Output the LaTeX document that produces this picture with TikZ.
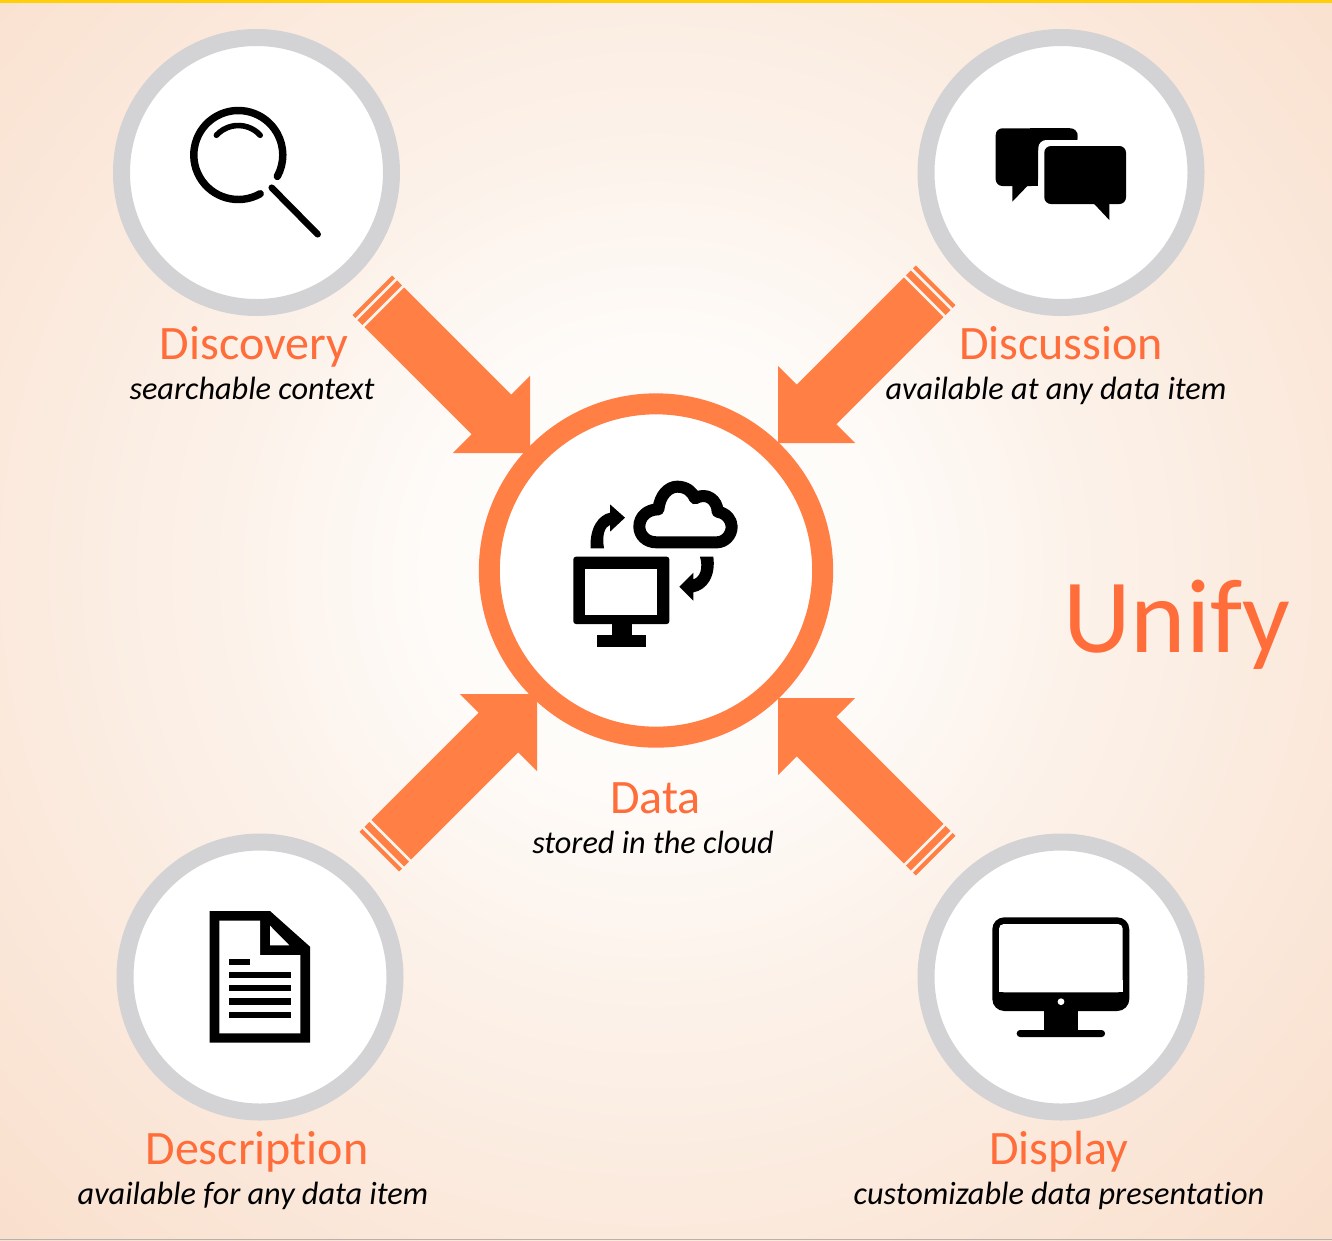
\documentclass[tikz,border=0pt]{standalone}
\usepackage{fontspec}
\setmainfont{Carlito}[Ligatures=NoCommon]
\definecolor{hot}{HTML}{FF7F45}
\definecolor{txt}{HTML}{FF6D3A}
\definecolor{ringgray}{HTML}{D3D3D5}
\definecolor{topbar}{HTML}{FFCF0A}
\definecolor{bg0}{HTML}{FEFBF8}
\definecolor{bgA}{HTML}{FCF2EA}
\definecolor{bgB}{HTML}{FAE4D4}
\definecolor{bgC}{HTML}{F8D6BD}
\pgfdeclareradialshading{bgglow}{\pgfpointorigin}{
  color(0bp)=(white);
  color(6bp)=(bg0);
  color(11bp)=(bgA);
  color(21bp)=(bgB);
  color(32bp)=(bgC);
  color(50bp)=(bgC)}
\tikzset{
  ringnode/.style={circle,draw=ringgray,fill=white,line width=12.75pt,minimum size=202.5pt,inner sep=0pt},
  hubnode/.style={circle,draw=hot,fill=white,line width=15.75pt,minimum size=250pt,inner sep=0pt},
  heading/.style={anchor=base,text=txt,font=\fontsize{36}{39}\selectfont,inner sep=0pt},
  sublabel/.style={anchor=base,text=black,font=\fontsize{24.2}{27}\selectfont\itshape,inner sep=0pt},
  icon/.style={fill=black,draw=none},
  hole/.style={fill=white,draw=none},
  lens/.style={draw=black,line cap=round}
}
\newcommand{\blockarrow}[2]{%
  \begin{scope}[shift={(#1)},rotate=#2]
    \fill[hot] (0,0) -- (-54.5,54.5) -- (-54.5,28) -- (-206,28) -- (-206,-28) -- (-54.5,-28) -- (-54.5,-54.5) -- cycle;
    \fill[hot] (-209,28) rectangle (-216,-28);
    \fill[hot] (-219,28) rectangle (-223,-28);
  \end{scope}}
\begin{document}
\begin{tikzpicture}[x=.75pt,y=-.75pt]
\useasboundingbox (0,0) rectangle (1332,1240);
\begin{scope}
  \clip (0,0) rectangle (1332,1240);
  \shade[shading=bgglow] (655,570) circle (960);
  \fill[topbar] (0,0) rectangle (1332,3);
  \fill[gray!60] (0,1238.5) rectangle (1332,1240);
\end{scope}

\coordinate (tipTL) at (530,453);
\coordinate (tipTR) at (778,443);
\coordinate (tipBL) at (537,694);
\coordinate (tipBR) at (778,698);

\node[hubnode] (data) at (656,570.5) {};
\node[ringnode] (discovery) at (256.5,172.5) {};
\node[ringnode] (discussion) at (1061,172.5) {};
\node[ringnode] (description) at (260,977) {};
\node[ringnode] (display) at (1061,977) {};

\blockarrow{tipTL}{-45}
\blockarrow{tipTR}{-135}
\blockarrow{tipBL}{45}
\blockarrow{tipBR}{135}

% texts
\node[heading] (t1) at (254,359) {Discovery};
\node[sublabel] (s1) at (252,399) {searchable context};
\node[heading] (t2) at (1061,359) {Discussion};
\node[sublabel] (s2) at (1056,399) {available at any data item};
\node[heading] (t3) at (655.5,813) {Data};
\node[sublabel] (s3) at (653,853) {stored in the cloud};
\node[heading] (t4) at (257,1164) {Description};
\node[sublabel] (s4) at (253,1204) {available for any data item};
\node[heading] (t5) at (1059,1164) {Display};
\node[sublabel] (s5) at (1059,1204) {customizable data presentation};
\node[anchor=base,text=txt,font=\fontsize{79}{84}\selectfont,inner sep=0pt] (unify) at (1177,652) {Unify};

% magnifier
\begin{scope}[shift={(238.3,155)},x=.75pt,y=.75pt]
  \draw[lens,line width=5.6pt] (-60.5:44.5) arc[start angle=-60.5,end angle=-388.7,radius=44.5];
  \draw[lens,line width=4.2pt] (42:29.5) arc[start angle=42,end angle=138,radius=29.5];
\end{scope}
\coordinate (h1) at (271.7,187.7);
\coordinate (h2) at (317.7,234.3);
\draw[lens,line width=4.9pt] (h1) -- (h2);

% chat bubbles
\fill[icon,rounded corners=5pt] (995.7,128.3) -- (1077.3,128.3) -- (1077.3,145) -- (1038.3,145) -- (1038.3,186) -- (995.7,186) -- cycle;
\fill[icon] (1028.3,185) -- (1012.3,201.7) -- (1012.3,185) -- cycle;
\fill[icon] (1020,185) rectangle (1038.3,186);
\fill[icon] (1030,135) rectangle (1038.3,186);
\fill[icon] (1030,128.3) rectangle (1070,140);
\fill[icon] (1070,130) -- (1077.3,133) -- (1077.3,140) -- (1070,140) -- cycle;
\fill[white,rounded corners=6pt] (1038.3,140) rectangle (1090,190);
\fill[icon,rounded corners=5pt] (1044.3,146) rectangle (1126,204);
\fill[icon] (1093.3,203) -- (1109.3,220) -- (1109.3,203) -- cycle;

% document
\fill[icon] (209.7,911) -- (270,911) -- (310,946.7) -- (310,1042.7) -- (209.7,1042.7) -- cycle;
\fill[hole] (219.3,920.7) -- (260,920.7) -- (260,955) -- (300.3,955) -- (300.3,1033.3) -- (219.3,1033.3) -- cycle;
\fill[hole] (270,925.7) -- (270,945.3) -- (289.3,945.3) -- cycle;
\fill[icon] (229,959) rectangle (250,965.3);
\fill[icon] (229,971.7) rectangle (291,978.3);
\fill[icon] (229,985) rectangle (291,991.3);
\fill[icon] (229,998.3) rectangle (291,1004.7);
\fill[icon] (229,1011.7) rectangle (291,1018);

% display monitor
\fill[icon,rounded corners=9pt] (992.3,917.3) rectangle (1129.3,1011);
\fill[hole,rounded corners=3.5pt] (999,924) rectangle (1122.7,992.3);
\fill[hole] (999,980) rectangle (1122.7,992.3);
\fill[hole] (1061,1001.7) circle (3.4);
\fill[icon] (1044,1010) rectangle (1078.3,1031);
\fill[icon,rounded corners=2.5pt] (1016.7,1030) rectangle (1105,1037);

% central icon
\begin{scope}[shift={(560,470)},x=.25pt,y=-.25pt]
  \fill[icon,rounded corners=2pt] (40,260) rectangle (328,462);
  \fill[hole] (76,296) rectangle (292,434);
  \fill[icon] (155,460) rectangle (215,497);
  \fill[icon] (112,495) rectangle (257,530);
  \draw[black,line width=9pt,line join=round] (290,217)
    .. controls (258,217) and (238,195) .. (238,170)
    .. controls (238,140) and (262,118) .. (295,118)
    .. controls (300,75) and (325,50) .. (352,50)
    .. controls (378,50) and (398,65) .. (405,85)
    .. controls (440,65) and (472,90) .. (473,125)
    .. controls (500,130) and (515,150) .. (515,170)
    .. controls (515,195) and (495,217) .. (470,217)
    -- cycle;
  \fill[icon] (92,235) .. controls (88,175) and (115,135) .. (150,128) -- (150,103) -- (195,143) -- (150,185) -- (150,165) .. controls (135,170) and (125,195) .. (132,235) -- cycle;
  \fill[icon] (460,260) .. controls (468,320) and (440,360) .. (400,367) -- (400,392) -- (358,350) -- (400,308) -- (400,328) .. controls (420,322) and (430,295) .. (420,260) -- cycle;
\end{scope}
\end{tikzpicture}
\end{document}
